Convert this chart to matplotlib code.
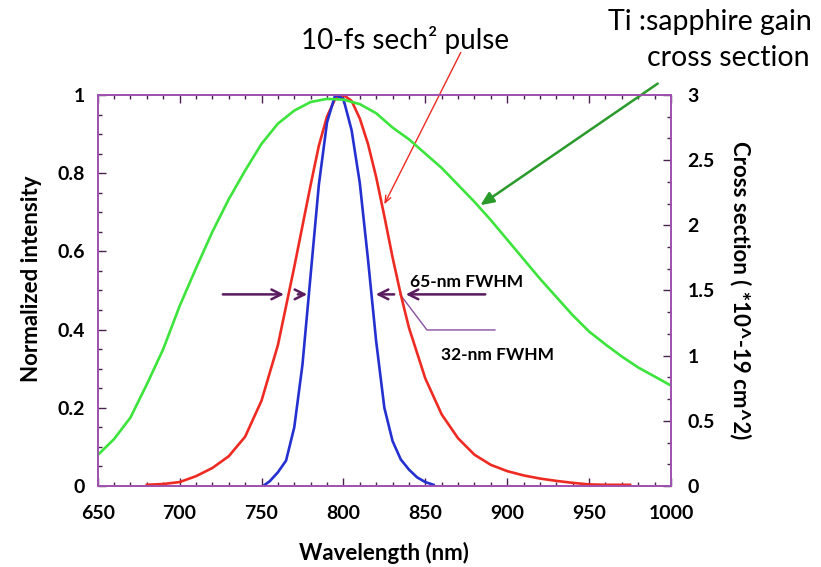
import matplotlib
matplotlib.use("Agg")
import matplotlib.pyplot as plt
from matplotlib.ticker import MultipleLocator
import numpy as np

plt.rcParams['font.family'] = ['Lato', 'DejaVu Sans']

# Ti:sapphire gain cross section (units of 1e-19 cm^2), every 10 nm
gain_wl = np.arange(650, 1001, 10)
gain_xs = [0.237, 0.36, 0.525, 0.78, 1.05, 1.38, 1.67, 1.95, 2.2, 2.42,
           2.625, 2.78, 2.88, 2.946, 2.97, 2.964, 2.93, 2.86, 2.75, 2.66,
           2.55, 2.44, 2.31, 2.18, 2.04, 1.89, 1.74, 1.59, 1.45, 1.31,
           1.185, 1.086, 0.993, 0.909, 0.84, 0.77]

# 10-fs sech^2 pulse spectrum
pulse_wl = [680, 690, 700, 710, 720, 730, 740, 750, 760, 770, 780, 785, 790,
            795, 800, 805, 810, 815, 820, 825, 830, 835, 840, 850, 860, 870,
            880, 890, 900, 910, 920, 930, 940, 950, 960, 975]
pulse_int = [0.003, 0.005, 0.01, 0.025, 0.046, 0.076, 0.126, 0.218, 0.36,
             0.56, 0.77, 0.87, 0.945, 0.99, 1.0, 0.985, 0.94, 0.875, 0.79,
             0.69, 0.585, 0.49, 0.405, 0.275, 0.183, 0.122, 0.08, 0.054,
             0.038, 0.027, 0.019, 0.013, 0.008, 0.004, 0.003, 0.003]

# narrower spectrum
narrow_wl = [752, 755, 760, 765, 770, 775, 780, 785, 790, 795, 800, 805,
             810, 815, 820, 825, 830, 835, 840, 845, 850, 855]
narrow_int = [0.003, 0.012, 0.035, 0.065, 0.15, 0.31, 0.54, 0.77, 0.93,
              1.0, 0.99, 0.91, 0.775, 0.58, 0.37, 0.2, 0.115, 0.068,
              0.042, 0.022, 0.01, 0.003]

spine_col = '#a052b0'
tick_col = '#4a2050'

fig = plt.figure(figsize=(8.21, 5.67), dpi=100)
ax = fig.add_axes([0.119, 0.1429, 0.6983, 0.6896])
ax2 = ax.twinx()

ax.plot(pulse_wl, pulse_int, color='#ee2b22', lw=1.9, zorder=3)
ax.plot(narrow_wl, narrow_int, color='#2430d0', lw=1.9, zorder=4)
ax2.plot(gain_wl, gain_xs, color='#3ce43c', lw=1.9)

ax.set_xlim(650, 1000)
ax.set_ylim(0, 1)
ax2.set_ylim(0, 3)

ax.xaxis.set_major_locator(MultipleLocator(50))
ax.xaxis.set_minor_locator(MultipleLocator(10))
ax.yaxis.set_minor_locator(MultipleLocator(0.05))
ax2.yaxis.set_minor_locator(MultipleLocator(0.5 / 3))

ax.set_yticks([0, 0.2, 0.4, 0.6, 0.8, 1.0])
ax.set_yticklabels(['0', '0.2', '0.4', '0.6', '0.8', '1'])
ax2.set_yticks([0, 0.5, 1, 1.5, 2, 2.5, 3])
ax2.set_yticklabels(['0', '0.5', '1', '1.5', '2', '2.5', '3'])

for a in (ax, ax2):
    for s in a.spines.values():
        s.set_color(spine_col)
        s.set_linewidth(1.3)
ax.tick_params(which='both', direction='in', top=True, right=False,
               color=tick_col, width=1.0)
ax.tick_params(which='major', length=6)
ax.tick_params(which='minor', length=3)
ax.tick_params(axis='x', pad=14, labelsize=14)
ax.tick_params(axis='y', pad=9, labelsize=14)
ax2.tick_params(which='both', direction='in', color=tick_col, width=1.0,
                pad=12, labelsize=14)
ax2.tick_params(which='major', length=6)
ax2.tick_params(which='minor', length=3)
for lab in ax.get_xticklabels() + ax.get_yticklabels() + ax2.get_yticklabels():
    lab.set_fontweight('bold')

ax.set_xlabel('Wavelength (nm)', fontsize=16, fontweight='bold', labelpad=14)
ax.set_ylabel('Normalized intensity', fontsize=16, fontweight='bold')
ax.yaxis.set_label_coords(-0.098, 0.53)
ax2.set_ylabel('Cross section ( *10^-19 cm^2)', fontsize=16, fontweight='bold',
               rotation=270, labelpad=26)

# FWHM markers
purple = '#5a1a5e'
arr = dict(arrowstyle='->,head_length=0.7,head_width=0.35', color=purple, lw=1.8)
ax.annotate('', xy=(765.4, 0.49), xytext=(724.7, 0.49), arrowprops=arr)
ax.annotate('', xy=(779.6, 0.49), xytext=(770.5, 0.49), arrowprops=arr)
ax.annotate('', xy=(818.1, 0.49), xytext=(832.7, 0.49), arrowprops=arr)
ax.annotate('', xy=(836.4, 0.49), xytext=(888.3, 0.49), arrowprops=arr)
ax.plot([834.6, 851.0, 892.5], [0.49, 0.399, 0.399], color='#8a50a0', lw=1.0)
ax.text(875, 0.521, '65-nm FWHM', fontsize=12.5, fontweight='bold',
        ha='center', va='center')
ax.text(894, 0.335, '32-nm FWHM', fontsize=12.5, fontweight='bold',
        ha='center', va='center')

# callouts
fig.text(405 / 821, 1 - 40 / 567, '10-fs sech² pulse', fontsize=20,
         ha='center', va='center')
ax.annotate('', xy=(824.2, 0.714), xycoords='data',
            xytext=(462, 517), textcoords='figure pixels',
            arrowprops=dict(arrowstyle='->,head_length=0.5,head_width=0.2',
                            color='#ee2b22', lw=1.0))
fig.text(812 / 821, 1 - 22 / 567, 'Ti :sapphire gain', fontsize=20.5,
         ha='right', va='center')
fig.text(810 / 821, 1 - 58 / 567, 'cross section', fontsize=20.5,
         ha='right', va='center')
ax.annotate('', xy=(882.2, 0.714), xycoords='data',
            xytext=(660, 485), textcoords='figure pixels',
            arrowprops=dict(arrowstyle='-|>,head_length=0.8,head_width=0.35',
                            color='#2a9a2a', lw=1.8))

fig.savefig('out.png', dpi=100)
